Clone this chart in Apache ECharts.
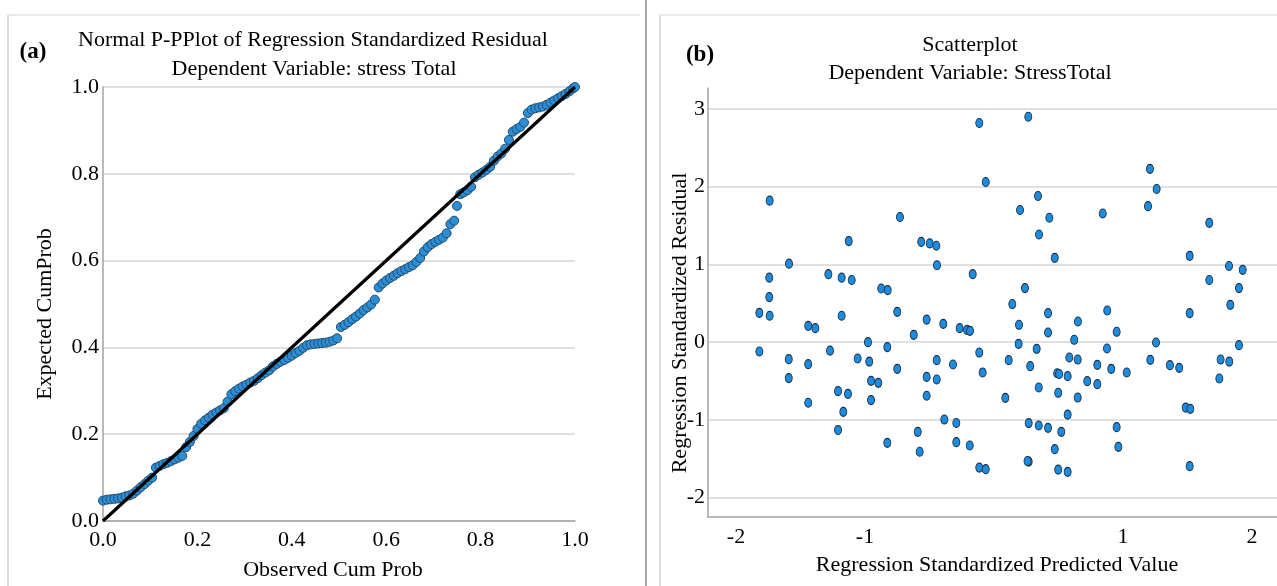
<!DOCTYPE html>
<html>
<head>
<meta charset="utf-8">
<script src="https://cdn.jsdelivr.net/npm/echarts@6/dist/echarts.min.js"></script>
<style>
html,body{margin:0;padding:0;background:#fff;}
#chart{width:1277px;height:586px;}
</style>
</head>
<body>
<div id="chart"></div>
<script>
// ---- Panel (a): Normal P-P plot ----
const ppObserved = [0.000,0.008,0.016,0.024,0.032,0.040,0.048,0.056,0.064,0.072,0.080,0.088,0.096,0.104,0.112,0.120,0.128,0.136,0.144,0.152,0.160,0.168,0.176,0.184,0.192,0.200,0.208,0.216,0.224,0.232,0.240,0.248,0.256,0.264,0.272,0.280,0.288,0.296,0.304,0.312,0.320,0.328,0.336,0.344,0.352,0.360,0.368,0.376,0.384,0.392,0.400,0.408,0.416,0.424,0.432,0.440,0.448,0.456,0.464,0.472,0.480,0.488,0.496,0.504,0.512,0.520,0.528,0.536,0.544,0.552,0.560,0.568,0.576,0.584,0.592,0.600,0.608,0.616,0.624,0.632,0.640,0.648,0.656,0.664,0.672,0.680,0.688,0.696,0.704,0.712,0.720,0.728,0.736,0.744,0.750,0.757,0.764,0.772,0.780,0.788,0.796,0.804,0.812,0.820,0.828,0.836,0.844,0.852,0.860,0.868,0.876,0.884,0.892,0.900,0.908,0.916,0.924,0.932,0.940,0.948,0.956,0.964,0.972,0.980,0.988,0.996,1.000];
const ppExpected = [0.047,0.049,0.050,0.051,0.052,0.054,0.057,0.059,0.063,0.070,0.078,0.085,0.093,0.100,0.123,0.127,0.131,0.134,0.138,0.142,0.146,0.150,0.170,0.182,0.196,0.212,0.224,0.232,0.238,0.245,0.250,0.255,0.260,0.275,0.292,0.299,0.305,0.310,0.314,0.319,0.323,0.329,0.336,0.342,0.347,0.356,0.362,0.367,0.371,0.376,0.381,0.387,0.392,0.399,0.405,0.407,0.408,0.409,0.410,0.411,0.413,0.416,0.421,0.447,0.452,0.458,0.465,0.471,0.478,0.486,0.492,0.499,0.510,0.538,0.547,0.554,0.560,0.565,0.571,0.576,0.580,0.585,0.589,0.597,0.606,0.621,0.631,0.638,0.643,0.648,0.653,0.663,0.684,0.692,0.726,0.753,0.757,0.762,0.770,0.792,0.798,0.803,0.809,0.816,0.830,0.840,0.847,0.858,0.878,0.897,0.903,0.908,0.918,0.940,0.948,0.951,0.953,0.955,0.959,0.964,0.969,0.974,0.979,0.984,0.990,0.997,1.000];
const refLineX = [0, 1];
const refLineY = [0, 1];
const ppTicks = [0.0, 0.2, 0.4, 0.6, 0.8, 1.0];

// ---- Panel (b): residual scatterplot ----
const predValues = [-0.114,-0.064,-1.739,-0.729,-1.126,-0.564,-0.498,-0.447,-1.589,-0.442,-1.284,-1.181,-1.103,-0.165,-1.742,-0.874,-0.824,-1.742,-1.819,-0.750,0.266,1.209,1.261,0.341,0.202,0.429,0.843,1.194,0.349,1.669,0.471,1.517,1.822,1.928,0.240,1.669,1.899,0.142,1.832,0.419,0.878,1.517,-1.739,-1.440,-1.385,-1.181,-0.522,-0.393,-0.266,-0.209,-0.186,-0.622,-0.977,-1.819,-1.271,-0.827,-0.114,-1.591,-1.057,-0.967,-0.444,-1.440,-0.318,-0.750,-0.088,-1.591,-0.522,-0.444,-0.953,-0.897,-1.209,-1.132,-0.522,-0.953,-1.440,-1.168,-0.385,-0.292,-1.209,-0.591,-0.827,-0.292,-0.188,-0.576,-0.114,-0.064,0.194,0.651,0.419,0.951,0.191,0.622,1.256,1.899,0.331,0.876,0.114,0.584,0.649,1.212,1.757,1.824,0.281,0.801,0.909,1.364,1.436,0.490,0.505,0.571,1.029,1.747,0.723,0.801,0.347,0.498,0.649,0.088,0.571,1.486,1.522,0.269,0.347,0.419,0.522,0.951,0.471,0.964,0.269,0.260,0.498,0.571,1.517];
const residValues = [2.82,2.06,1.82,1.61,1.30,1.29,1.27,1.24,1.01,0.99,0.875,0.83,0.80,0.875,0.83,0.69,0.67,0.58,0.377,0.39,2.90,2.23,1.97,1.88,1.70,1.60,1.655,1.75,1.385,1.535,1.085,1.11,0.98,0.93,0.695,0.80,0.695,0.49,0.48,0.373,0.407,0.373,0.34,0.21,0.18,0.34,0.29,0.235,0.18,0.158,0.145,0.094,0.0,-0.12,-0.11,-0.064,-0.134,-0.219,-0.211,-0.25,-0.232,-0.283,-0.288,-0.344,-0.39,-0.463,-0.447,-0.481,-0.498,-0.524,-0.63,-0.665,-0.69,-0.746,-0.78,-0.897,-0.996,-1.04,-1.13,-1.154,-1.296,-1.287,-1.33,-1.41,-1.614,-1.634,0.223,0.265,0.124,0.133,-0.022,0.03,-0.005,-0.039,-0.086,-0.082,-0.232,-0.198,-0.224,-0.228,-0.224,-0.25,-0.309,-0.292,-0.344,-0.296,-0.331,-0.400,-0.410,-0.438,-0.391,-0.468,-0.502,-0.541,-0.584,-0.652,-0.713,-0.717,-0.932,-0.842,-0.858,-1.042,-1.073,-1.103,-1.154,-1.094,-1.377,-1.347,-1.537,-1.530,-1.64,-1.669,-1.596];

const ppData = ppObserved.map((x, i) => [x, ppExpected[i]]);
const refData = refLineX.map((x, i) => [x, refLineY[i]]);
const scatterData = predValues.map((x, i) => [x, residValues[i]]);

const SERIF = '"Liberation Serif", "Times New Roman", serif';
const gridColor = '#d6d6d6';
const axisColor = '#a3a3a3';
const labelStyle = {color: '#000', fontFamily: SERIF, fontSize: 22};

function txt(text, x, y, opts) {
  opts = opts || {};
  return {
    type: 'text', x: x, y: y, rotation: opts.rotation || 0, z: 10,
    style: {
      text: text, fill: '#000', fontFamily: SERIF,
      fontSize: opts.size || 22, fontWeight: opts.weight || 'normal',
      align: 'center', verticalAlign: 'middle'
    }
  };
}
function ln(x1, y1, x2, y2, color, w) {
  return {type: 'line', shape: {x1, y1, x2, y2}, style: {stroke: color, lineWidth: w}, silent: true};
}

const chart = echarts.init(document.getElementById('chart'), null, {renderer: 'canvas'});
chart.setOption({
  animation: false,
  backgroundColor: '#fff',
  grid: [
    {left: 103, top: 87, width: 472, height: 434},
    {left: 708, top: 88, width: 569, height: 429}
  ],
  xAxis: [
    {
      gridIndex: 0, type: 'value', min: 0, max: 1, interval: 0.2,
      axisLine: {show: true, lineStyle: {color: axisColor, width: 1.5}},
      axisTick: {show: false}, splitLine: {show: false},
      axisLabel: Object.assign({formatter: v => v.toFixed(1), margin: 8}, labelStyle)
    },
    {
      gridIndex: 1, type: 'value', min: -2.217, max: 2.194, minInterval: 1, maxInterval: 1,
      axisLine: {show: true, onZero: false, lineStyle: {color: axisColor, width: 1.5}},
      axisTick: {show: false}, splitLine: {show: false},
      axisLabel: Object.assign({showMinLabel: false, showMaxLabel: false, margin: 9,
        formatter: v => (Math.abs(v) < 1e-9 ? '' : String(v))}, labelStyle)
    }
  ],
  yAxis: [
    {
      gridIndex: 0, type: 'value', min: 0, max: 1, interval: 0.2,
      axisLine: {show: true, lineStyle: {color: axisColor, width: 1.5}},
      axisTick: {show: false},
      splitLine: {show: true, lineStyle: {color: gridColor, width: 1.5}},
      axisLabel: Object.assign({formatter: v => v.toFixed(1), margin: 4}, labelStyle)
    },
    {
      gridIndex: 1, type: 'value', min: -2.25, max: 3.27, minInterval: 1, maxInterval: 1,
      axisLine: {show: true, onZero: false, lineStyle: {color: axisColor, width: 1.5}},
      axisTick: {show: false},
      splitLine: {show: true, showMinLine: false, showMaxLine: false, lineStyle: {color: gridColor, width: 1.5}},
      axisLabel: Object.assign({showMinLabel: false, showMaxLabel: false, margin: 3}, labelStyle)
    }
  ],
  series: [
    {
      type: 'scatter', xAxisIndex: 0, yAxisIndex: 0, data: ppData,
      symbol: 'circle', symbolSize: 9, z: 2,
      itemStyle: {color: '#2a8fd6', borderColor: '#264a6b', borderWidth: 1, opacity: 1}
    },
    {
      type: 'line', xAxisIndex: 0, yAxisIndex: 0, data: refData,
      symbol: 'none', z: 5, lineStyle: {color: '#000', width: 3.2}
    },
    {
      type: 'scatter', xAxisIndex: 1, yAxisIndex: 1, data: scatterData,
      symbol: 'circle', symbolSize: [7, 9], z: 2,
      itemStyle: {color: '#1b8ce0', borderColor: '#1e2f44', borderWidth: 1, opacity: 1}
    }
  ],
  graphic: [
    ln(8, 15, 8, 586, '#cfcfcf', 1.5),
    ln(8, 15, 640, 15, '#e2e2e2', 1.5),
    ln(646, 0, 646, 586, '#a8a8a8', 2),
    ln(660, 15, 660, 586, '#cfcfcf', 1.5),
    ln(660, 15, 1277, 15, '#e2e2e2', 1.5),
    txt('(a)', 33, 52, {weight: 'bold', size: 23}),
    txt('Normal P-PPlot of Regression Standardized Residual', 313, 40),
    txt('Dependent Variable: stress Total', 314, 69),
    txt('Expected CumProb', 45, 314, {rotation: Math.PI / 2}),
    txt('Observed Cum Prob', 333, 570),
    txt('(b)', 700, 55, {weight: 'bold', size: 23}),
    txt('Scatterplot', 970, 45),
    txt('Dependent Variable: StressTotal', 970, 73),
    txt('Regression Standardized Residual', 680, 323, {rotation: Math.PI / 2}),
    txt('Regression Standardized Predicted Value', 997, 565)
  ]
});
</script>
</body>
</html>
